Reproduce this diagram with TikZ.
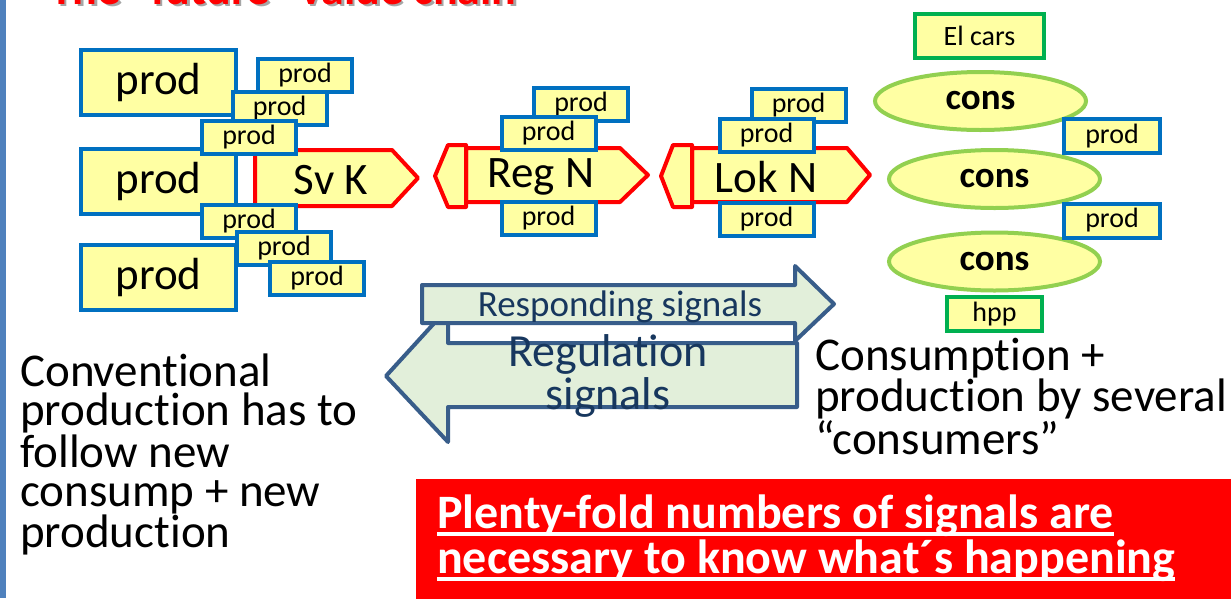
\documentclass[tikz,border=0pt]{standalone}
\usepackage{fontspec}
\setmainfont{Carlito}[Ligatures=NoCommon]
\usetikzlibrary{shapes.geometric}
\definecolor{prodblue}{RGB}{0,112,192}
\definecolor{prodfill}{RGB}{255,255,163}
\definecolor{consgreen}{RGB}{146,208,80}
\definecolor{boxgreen}{RGB}{0,176,80}
\definecolor{sigline}{RGB}{56,93,138}
\definecolor{sigfill}{RGB}{226,239,218}
\definecolor{sigtext}{RGB}{23,55,94}
\definecolor{barblue}{RGB}{79,129,189}
\tikzset{
	bigprodstyle/.style={rectangle,draw=prodblue,fill=prodfill,line width=4pt,minimum width=155pt,minimum height=65pt,inner sep=0pt,font=\fontsize{45}{50}\selectfont},
	prodstyle/.style={rectangle,draw=prodblue,fill=prodfill,line width=4pt,minimum width=94pt,minimum height=33pt,inner sep=0pt,font=\fontsize{28}{30}\selectfont},
	consstyle/.style={ellipse,draw=consgreen,fill=prodfill,line width=4pt,minimum width=211pt,minimum height=58pt,inner sep=0pt,font=\bfseries\fontsize{37}{40}\selectfont},
	greenstyle/.style={rectangle,draw=boxgreen,fill=prodfill,line width=4pt,inner sep=0pt,font=\fontsize{28}{30}\selectfont},
	chainstyle/.style={draw=red,fill=prodfill,line width=4pt,line join=round},
	signalstyle/.style={draw=sigline,fill=sigfill,line width=4pt,line join=round},
	labelstyle/.style={inner sep=0pt,font=\fontsize{45}{50}\selectfont},
	notestyle/.style={align=left,inner sep=0pt,anchor=north west,font=\fontsize{47}{39}\selectfont},
	plentystyle/.style={anchor=base west,inner sep=0pt,text=white,font=\bfseries\fontsize{48}{45}\selectfont}
}
\begin{document}
\begin{tikzpicture}[x=1pt,y=-1pt]
	\useasboundingbox (0,0) rectangle (1231,598);
	\fill[barblue] (0,0) rectangle (6,598);
	\node[anchor=base west,inner sep=0pt,text=black!35,font=\bfseries\fontsize{46}{50}\selectfont] (titleshadow) at (52.5,6.5) {The “future” value chain};
	\node[anchor=base west,inner sep=0pt,text=red,font=\bfseries\fontsize{46}{50}\selectfont] (title) at (50,4) {The “future” value chain};
	\draw[chainstyle] (255,150) -- (392,150) -- (418,178) -- (392,206) -- (255,206) -- cycle;
	\draw[chainstyle] (466,148) -- (620,148) -- (648,175) -- (620,202) -- (466,202) -- cycle;
	\draw[chainstyle] (466,145) -- (448,145) -- (435,176) -- (448,207) -- (466,207) -- cycle;
	\draw[chainstyle] (692,148) -- (847,148) -- (870,175) -- (847,202) -- (692,202) -- cycle;
	\draw[chainstyle] (692,145) -- (673,145) -- (661,176) -- (673,207) -- (692,207) -- cycle;
	\node[labelstyle] (svk) at (331,180) {Sv K};
	\node[labelstyle] (regn) at (541,177) {Reg N};
	\node[labelstyle] (lokn) at (766,177) {Lok N};
	\node[bigprodstyle] (p1) at (158.5,82.5) {prod};
	\node[bigprodstyle] (p2) at (158.5,181) {prod};
	\node[bigprodstyle] (p3) at (158.5,277.5) {prod};
	\node[prodstyle] (s1) at (305,75.5) {prod};
	\node[prodstyle] (s2) at (279.5,108.5) {prod};
	\node[prodstyle] (s3) at (249,137) {prod};
	\node[prodstyle] (s4) at (249,221.5) {prod};
	\node[prodstyle] (s5) at (284,248.5) {prod};
	\node[prodstyle] (s6) at (317,278.5) {prod};
	\node[prodstyle] (r1) at (581,104.5) {prod};
	\node[prodstyle] (r2) at (548.5,133.5) {prod};
	\node[prodstyle] (r3) at (548.5,218) {prod};
	\node[prodstyle] (l1) at (798.5,105.5) {prod};
	\node[prodstyle] (l2) at (766.5,135) {prod};
	\node[prodstyle] (l3) at (766.5,219) {prod};
	\node[consstyle] (c1) at (980.5,101) {cons};
	\node[consstyle] (c2) at (994.5,179) {cons};
	\node[consstyle] (c3) at (994.5,261.5) {cons};
	\node[greenstyle,minimum width=129pt,minimum height=44pt] (elcars) at (979.5,36) {El cars};
	\node[greenstyle,minimum width=95pt,minimum height=34pt] (hpp) at (994.5,314) {hpp};
	\node[prodstyle,minimum width=96pt,minimum height=34pt] (rp1) at (1112,136) {prod};
	\node[prodstyle,minimum width=96pt,minimum height=34pt] (rp2) at (1112,220.5) {prod};
	\draw[signalstyle] (797,343) -- (448,343) -- (448,308) -- (386,376) -- (448,442) -- (448,407) -- (797,407) -- cycle;
	\draw[signalstyle] (422,285) -- (795,285) -- (795,266) -- (834,304) -- (795,341) -- (795,323) -- (422,323) -- cycle;
	\node[inner sep=0pt,text=sigtext,font=\fontsize{37}{40}\selectfont] (responding) at (620,307) {Responding signals};
	\node[align=center,inner sep=0pt,text=sigtext,font=\fontsize{46}{43}\selectfont] (regulation) at (608,376) {Regulation\\signals};
	\node[notestyle] (conventional) at (20,354) {Conventional\\production has to\\follow new\\consump + new\\production};
	\node[notestyle] (consumption) at (815,338) {Consumption +\\production by several\\“consumers”};
	\fill[red] (416,479) rectangle (1240,605);
	\node[plentystyle] (plenty1) at (437,528) {Plenty-fold numbers of signals are};
	\node[plentystyle] (plenty2) at (437,573) {necessary to know what´s happening};
	\draw[white,line width=3.5pt] ([yshift=-6pt]plenty1.base west) -- ([yshift=-6pt]plenty1.base east);
	\draw[white,line width=3.5pt] ([yshift=-6pt]plenty2.base west) -- ([yshift=-6pt]plenty2.base east);
\end{tikzpicture}
\end{document}
